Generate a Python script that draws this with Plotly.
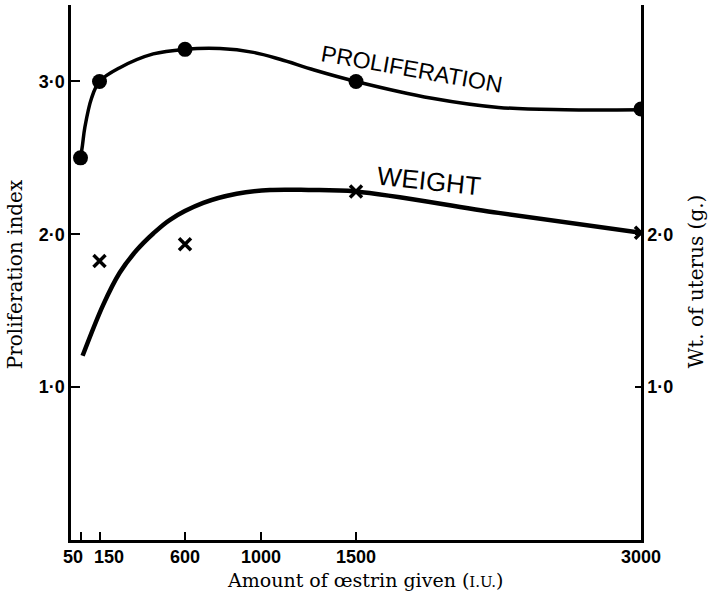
import plotly.graph_objects as go

# Measured points
dose = [50, 150, 600, 1500, 3000]
prolif_index = [2.50, 3.00, 3.21, 3.00, 2.82]
weight_dose = [150, 600, 1500, 3000]
uterus_wt = [1.825, 1.935, 2.28, 2.01]

# Hand-drawn smooth curves
prolif_curve_x = [50, 60, 73, 108, 150, 257, 433, 600, 784, 960, 1100, 1280, 1500, 1900, 2250, 2600, 3000]
prolif_curve_y = [2.50, 2.58, 2.70, 2.89, 3.00, 3.09, 3.18, 3.21, 3.215, 3.19, 3.145, 3.075, 3.00, 2.89, 2.83, 2.815, 2.815]
weight_curve_x = [61, 170, 257, 345, 433, 521, 696, 872, 1047, 1250, 1500, 2250, 3000]
weight_curve_y = [1.205, 1.54, 1.75, 1.895, 2.005, 2.095, 2.205, 2.265, 2.29, 2.29, 2.28, 2.14, 2.01]

x_ticks = [50, 150, 600, 1000, 1500, 3000]
x_ticktext = ["50", "150", "600", "1000", "1500", "3000"]
left_ticks = [1, 2, 3]
left_ticktext = ["1·0", "2·0", "3·0"]
right_ticks = [1, 2]
right_ticktext = ["1·0", "2·0"]

tickfont = dict(family="Liberation Sans", size=18, color="black", weight="bold")
serif = "DejaVu Serif"

fig = go.Figure()
fig.add_trace(go.Scatter(x=prolif_curve_x, y=prolif_curve_y, mode="lines",
                         line=dict(color="black", width=3.5, shape="spline", smoothing=1.0),
                         hoverinfo="skip"))
fig.add_trace(go.Scatter(x=dose, y=prolif_index, mode="markers",
                         marker=dict(symbol="circle", size=15, color="black")))
fig.add_trace(go.Scatter(x=weight_curve_x, y=weight_curve_y, mode="lines", yaxis="y2",
                         line=dict(color="black", width=4.5, shape="spline", smoothing=1.0),
                         hoverinfo="skip"))
fig.add_trace(go.Scatter(x=weight_dose, y=uterus_wt, mode="markers", yaxis="y2",
                         marker=dict(symbol="x-thin", size=12, color="black",
                                     line=dict(color="black", width=3.5))))

fig.add_annotation(x=1794, y=3.08, text="PROLIFERATION", showarrow=False, textangle=10,
                   font=dict(family="Liberation Sans", size=23, color="black"))
fig.add_annotation(x=1884, y=2.35, yref="y2", text="WEIGHT", showarrow=False, textangle=6,
                   font=dict(family="Liberation Sans", size=26, color="black"))

# x tick labels (50 and 150 nudged apart as in the original)
x_label_shift = {50: -8, 150: 9}
for v, t in zip(x_ticks, x_ticktext):
    fig.add_annotation(x=v, y=0, yref="paper", text=t, showarrow=False,
                       xanchor="center", yanchor="middle", yshift=-17,
                       xshift=x_label_shift.get(v, 0), font=tickfont)

fig.add_annotation(xref="paper", yref="paper", x=-0.098, y=0.497, xanchor="center", yanchor="middle",
                   text="Proliferation index", textangle=-90, showarrow=False,
                   font=dict(family=serif, size=20, color="black"))
fig.add_annotation(xref="paper", yref="paper", x=1.096, y=0.483, xanchor="center", yanchor="middle",
                   text="Wt. of uterus (g.)", textangle=-90, showarrow=False,
                   font=dict(family=serif, size=20, color="black"))
fig.add_annotation(xref="paper", yref="paper", x=0.517, y=0, yshift=-53, xanchor="center", yanchor="bottom",
                   text="Amount of œstrin given (<span style='font-size:15px'>I.U.</span>)", showarrow=False,
                   font=dict(family=serif, size=19, color="black"))

fig.update_layout(
    width=708, height=593,
    margin=dict(l=71, r=67, t=5, b=53),
    paper_bgcolor="white", plot_bgcolor="white",
    showlegend=False,
    xaxis=dict(range=[0, 3000], tickvals=x_ticks, showticklabels=False, automargin=False,
               showgrid=False, zeroline=False, showline=True, linecolor="black", linewidth=2.5,
               ticks="inside", ticklen=8, tickwidth=2, tickcolor="black"),
    yaxis=dict(range=[0, 3.5], tickvals=left_ticks, ticktext=left_ticktext, automargin=False,
               showgrid=False, zeroline=False, showline=True, linecolor="black", linewidth=2.5,
               ticks="inside", ticklen=9, tickwidth=2, tickcolor="black", tickfont=tickfont),
    yaxis2=dict(range=[0, 3.5], tickvals=right_ticks, ticktext=right_ticktext, overlaying="y",
                side="right", automargin=False, showgrid=False, zeroline=False, showline=True,
                linecolor="black", linewidth=2.5, ticks="inside", ticklen=6, tickwidth=2,
                tickcolor="black", tickfont=tickfont),
)

fig.write_html("out.html", config={"displayModeBar": False},
               post_script="document.body.style.margin='0';document.body.style.overflow='hidden';")
